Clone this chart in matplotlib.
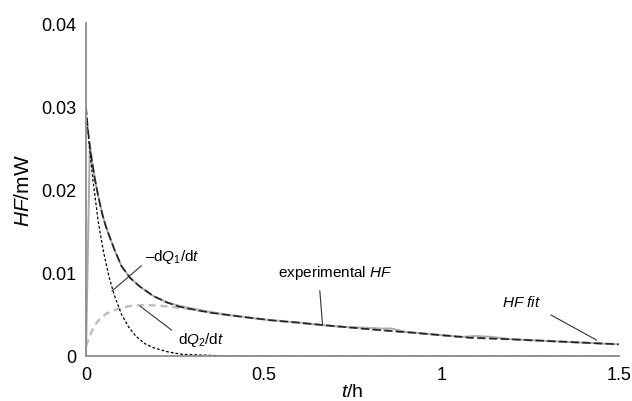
import matplotlib
matplotlib.use('Agg')
import matplotlib.pyplot as plt

# values (t in h, HF in mW)
t_fit = [0, 0.005, 0.01, 0.016, 0.025, 0.035, 0.045, 0.055, 0.065, 0.08, 0.1, 0.124,
         0.15, 0.19, 0.23, 0.265, 0.3, 0.35, 0.405, 0.46, 0.52, 0.6, 0.67, 0.75,
         0.83, 0.92, 1.0, 1.08, 1.2, 1.3, 1.4, 1.5]
hf_fit = [0.0300, 0.0275, 0.0255, 0.0237, 0.0213, 0.0191, 0.0172, 0.0157, 0.0145, 0.0128,
          0.0108, 0.0094, 0.0084, 0.0072, 0.0064, 0.0059, 0.0056, 0.0052, 0.0049, 0.0046,
          0.0043, 0.0040, 0.0037, 0.0034, 0.0031, 0.0028, 0.0025, 0.0022, 0.0020, 0.0018,
          0.0016, 0.0014]

t_exp = [0, 0.011, 0.016, 0.025, 0.035, 0.05, 0.065, 0.08, 0.1, 0.124, 0.15, 0.19, 0.23,
         0.265, 0.3, 0.35, 0.405, 0.46, 0.52, 0.6, 0.67, 0.72, 0.78, 0.83, 0.86, 0.9, 0.95,
         1.0, 1.06, 1.1, 1.14, 1.2, 1.3, 1.4, 1.5]
hf_exp = [0, 0.0255, 0.0237, 0.0213, 0.0191, 0.0164, 0.0145, 0.0128, 0.0108, 0.0094, 0.0084,
          0.0072, 0.0064, 0.0060, 0.0057, 0.0053, 0.0049, 0.0046, 0.0043, 0.0040, 0.0037,
          0.0035, 0.0034, 0.0033, 0.0033, 0.0029, 0.0027, 0.0025, 0.0023, 0.0024, 0.0023,
          0.0020, 0.0018, 0.0016, 0.0014]

t_q1 = [0, 0.01, 0.02, 0.035, 0.05, 0.065, 0.08, 0.1, 0.12, 0.14, 0.165, 0.19, 0.23, 0.27,
        0.33, 0.4, 0.6, 1.0, 1.5]
dq1 = [0.0298, 0.0250, 0.0210, 0.0160, 0.0124, 0.0095, 0.0073, 0.0050, 0.0035, 0.0024,
       0.0015, 0.0010, 0.0005, 0.0002, 0.0001, 0, 0, 0, 0]

t_q2 = [0, 0.012, 0.023, 0.04, 0.058, 0.08, 0.1, 0.125, 0.15, 0.18, 0.22, 0.26, 0.3, 0.35,
        0.405, 0.46, 0.52, 0.6, 0.67, 0.75, 0.83, 0.92, 1.0, 1.08, 1.2, 1.3, 1.4, 1.5]
dq2 = [0.0012, 0.0025, 0.0036, 0.0045, 0.0051, 0.0055, 0.0058, 0.0060, 0.0061, 0.0061,
       0.0060, 0.0058, 0.0056, 0.0052, 0.0049, 0.0046, 0.0043, 0.0040, 0.0037, 0.0034,
       0.0031, 0.0028, 0.0025, 0.0022, 0.0020, 0.0018, 0.0016, 0.0014]

x_ticks = [0, 0.5, 1, 1.5]
x_labels = ['0', '0.5', '1', '1.5']
y_ticks = [0, 0.01, 0.02, 0.03, 0.04]
y_labels = ['0', '0.01', '0.02', '0.03', '0.04']

plt.rcParams['font.family'] = ['Liberation Sans', 'DejaVu Sans']
plt.rcParams['mathtext.fontset'] = 'custom'
plt.rcParams['mathtext.rm'] = 'Liberation Sans'
plt.rcParams['mathtext.it'] = 'Liberation Sans:italic'

fig = plt.figure(figsize=(6.32, 4.02), dpi=100)
ax = fig.add_axes([0.136, 0.112, 0.843, 0.828])

ax.plot(t_exp, hf_exp, color='#aaaaaa', lw=1.4, solid_joinstyle='round')
ax.plot(t_q2, dq2, color='#bdbdbd', lw=1.7, dashes=(3, 2))
ax.plot(t_q1, dq1, color='black', lw=0.9, dashes=(2.2, 1.6))
ax.plot(t_fit, hf_fit, color='#222222', lw=1.2, dashes=(5, 2))

ax.set_xlim(0, 1.5)
ax.set_ylim(0, 0.04)
ax.set_xticks(x_ticks)
ax.set_xticklabels(x_labels)
ax.set_yticks(y_ticks)
ax.set_yticklabels(y_labels)
ax.tick_params(length=0, labelsize=13, pad=7)

for side in ['top', 'right']:
    ax.spines[side].set_visible(False)
for side in ['left', 'bottom']:
    ax.spines[side].set_color('#8c8c8c')
    ax.spines[side].set_linewidth(1.3)

ax.set_xlabel('$t$/h', fontsize=14, labelpad=0)
ax.set_ylabel('$HF$/mW', fontsize=15, labelpad=6)

line_kw = dict(arrowstyle='-', color='#333333', lw=0.8, shrinkB=0)
ax.annotate('–d$Q_1$/d$t$', xy=(0.073, 0.0078), xytext=(0.167, 0.0120),
            fontsize=11, ha='left', va='center',
            arrowprops=dict(relpos=(0, 0.15), shrinkA=1, **line_kw))
ax.annotate('d$Q_2$/d$t$', xy=(0.152, 0.0060), xytext=(0.259, 0.0020),
            fontsize=11, ha='left', va='center',
            arrowprops=dict(relpos=(0, 0.75), shrinkA=3, **line_kw))
ax.annotate('experimental $HF$', xy=(0.666, 0.0038), xytext=(0.540, 0.0101),
            fontsize=11, ha='left', va='center',
            arrowprops=dict(relpos=(0.36, 0), shrinkA=5, **line_kw))
ax.annotate('$HF\\ fit$', xy=(1.438, 0.0019), xytext=(1.171, 0.0065),
            fontsize=11, ha='left', va='center',
            arrowprops=dict(relpos=(1, 0), shrinkA=6, **line_kw))

fig.savefig('out.png', dpi=100)
